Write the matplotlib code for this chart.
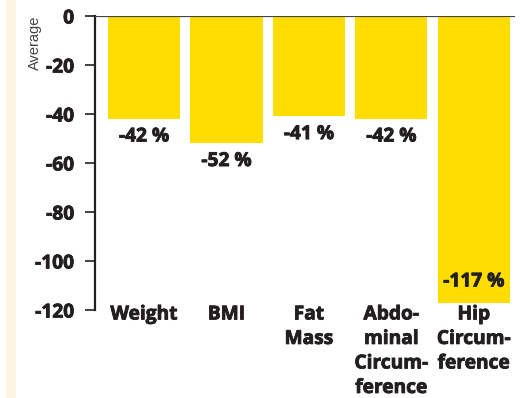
import matplotlib.pyplot as plt
import matplotlib.patheffects as pe
from matplotlib.patches import Rectangle

categories = ["Weight", "BMI", "Fat\nMass", "Abdo-\nminal\nCircum-\nference", "Hip\nCircum-\nference"]
values = [-42, -52, -41, -42, -117]
labels = ["-42 %", "-52 %", "-41 %", "-42 %", "-117 %"]
yticks = [0, -20, -40, -60, -80, -100, -120]

dark = "#231f20"
yellow = "#ffdd00"

plt.rcParams["font.family"] = ["Open Sans", "DejaVu Sans"]
heavy = [pe.withStroke(linewidth=0.6, foreground=dark)]

fig = plt.figure(figsize=(5.27, 3.98), dpi=100)
# pale strip on the left edge
fig.patches.append(Rectangle((6 / 527, 0), 10 / 527, 1, transform=fig.transFigure,
                             facecolor="#fdf5e4", edgecolor="none", zorder=0))

ax = fig.add_axes([95 / 527, 88 / 398, 420 / 527, 294 / 398])
x = range(len(values))
ax.bar(x, values, width=0.875, color=yellow, zorder=2)
ax.axhline(0, color="#444444", lw=1.6, zorder=3)

fs = 13.8
for i, (v, lab) in enumerate(zip(values, labels)):
    if v < -100:
        ax.annotate(lab, (i, v), xytext=(0, 8), textcoords="offset points",
                    ha="center", va="bottom", fontsize=fs, fontweight="bold", color=dark,
                    path_effects=heavy)
    else:
        ax.annotate(lab, (i, v), xytext=(0, -5.5), textcoords="offset points",
                    ha="center", va="top", fontsize=fs, fontweight="bold", color=dark,
                    path_effects=heavy)

ax.set_xlim(-0.595, 4.5)
ax.set_ylim(-120, 0)
ax.set_yticks(yticks)
ax.set_yticklabels([str(t) for t in yticks], fontsize=fs, fontweight="bold", color=dark,
                   path_effects=heavy)
ax.set_xticks(list(x))
ax.set_xticklabels(categories, fontsize=fs, fontweight="bold", color=dark, linespacing=1.3,
                   path_effects=heavy)
ax.tick_params(axis="x", length=0, pad=-4)
ax.tick_params(axis="y", length=7, width=1.2, color=dark, pad=8)

for s in ["top", "right", "bottom"]:
    ax.spines[s].set_visible(False)
ax.spines["left"].set_color(dark)
ax.spines["left"].set_linewidth(1.6)

ax.set_ylabel("Average", fontsize=10.5, color="#444444", loc="top",
              family=["Liberation Sans", "DejaVu Sans"])
ax.yaxis.set_label_coords(-0.126, 1.0)

fig.savefig("out.png", dpi=100)
